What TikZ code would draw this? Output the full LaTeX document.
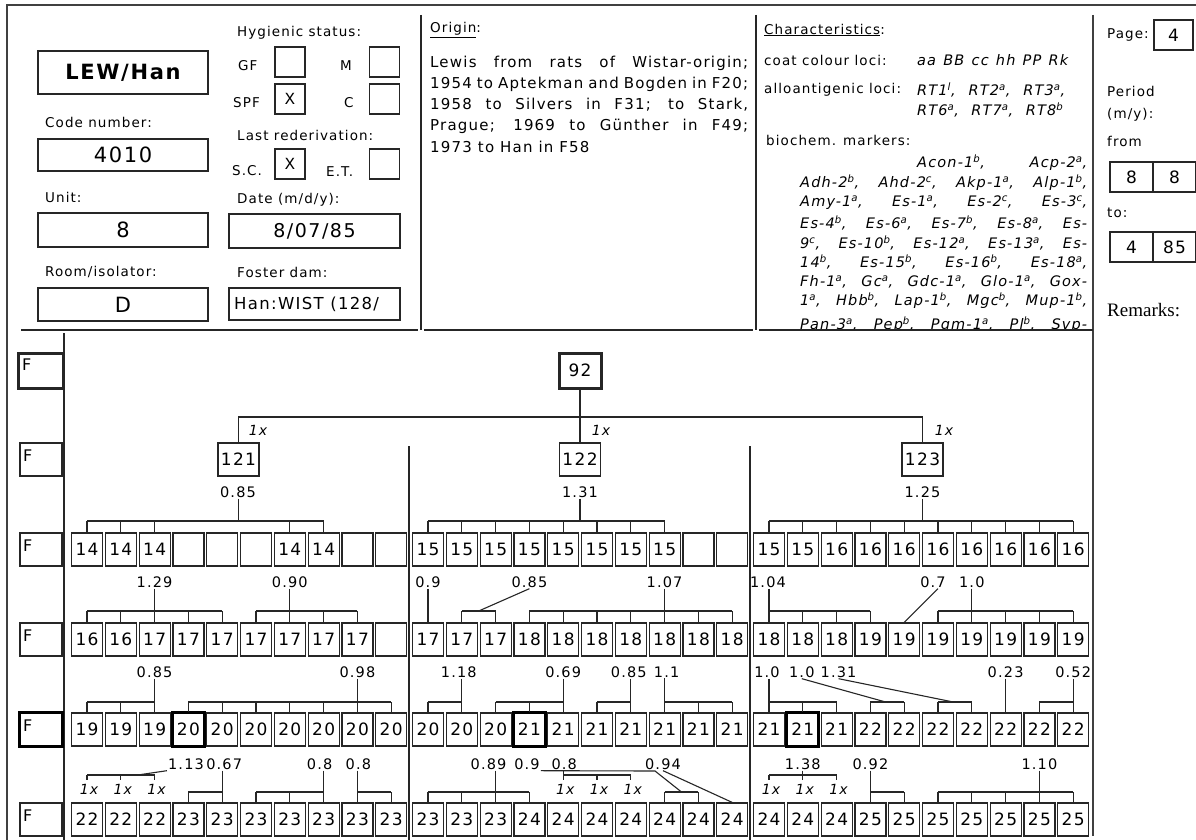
\documentclass[tikz,border=0pt]{standalone}
\usepackage{fontspec}
\setmainfont{DejaVu Sans}[LetterSpace=8]
\newfontfamily\serifR{Liberation Serif}
\newfontfamily\monoX{Liberation Mono}
\usetikzlibrary{calc}
\newcommand\fsz[1]{\fontsize{#1}{#1}\selectfont}
\tikzset{
  ln/.style={draw=black!85, line width=1.2pt},
  frame/.style={draw=black!75, line width=1.8pt},
  hbox/.style={draw=black!85, line width=1.2pt, inner sep=0pt},
  cell/.style={draw=black!85, line width=1.2pt, minimum width=31pt, minimum height=33pt, inner sep=0pt, font=\fsz{17}},
  thickbox/.style={draw=black, line width=3pt},
  lbl/.style={inner sep=0pt, anchor=west, font=\fsz{13.5}},
  otx/.style={inner sep=0pt, anchor=west, font=\fsz{15}},
  val/.style={inner sep=1pt, font=\fsz{14.5}},
  lxs/.style={inner sep=0pt, font=\fsz{14}\itshape},
  mk/.style={inner sep=0pt, anchor=west, font=\fsz{14.5}\itshape},
  conn/.style={draw=black!85, line width=1.1pt},
  xbox/.style={hbox, minimum size=30pt, font=\fsz{17}\monoX},
  pbox/.style={hbox, minimum width=43pt, minimum height=30pt, font=\fsz{17}},
}
\newcommand\cellrow[3]{%
  \foreach \i/\t in {#3}{%
    \node[cell] (r#1s#2b\i) at ({87+341*(#2-1)+33.8*\i},{369.5+90*#1}) {\t};
  }}
\newcommand\brk[6]{%
  \draw[conn] (#1.center |- #2.south) -- (#1.center |- 0,#3);
  \draw[conn] (#4.north |- 0,#3) -- (#5.north |- 0,#3);
  \foreach \c in {#6}{\draw[conn] (\c.north |- 0,#3) -- (\c.north);}
}
\newcommand\sibbar[4]{% y, first, last, list (bar with ticks)
  \draw[conn] (#2.north |- 0,#1) -- (#3.north |- 0,#1);
  \foreach \c in {#4}{\draw[conn] (\c.north |- 0,#1) -- (\c.north);}
}
\newcommand\lxbar[3]{% first, last, list
  \draw[conn] (#1.north |- 0,775) -- (#2.north |- 0,775);
  \foreach \c in {#3}{\draw[conn] (\c.north |- 0,775) -- (\c.north |- 0,780);
    \node[lxs, xshift=2pt] (lx-\c) at (\c.north |- 0,789) {1x};}
}
\begin{document}
\begin{tikzpicture}[x=1pt,y=-1pt]
\useasboundingbox (0,0) rectangle (1196,840);
\fill[white] (0,0) rectangle (1196,840);
% frame
\draw[frame] (7,840) -- (7,5) -- (1196,5);
\draw[ln] (421,15) -- (421,330);
\draw[ln] (756,15) -- (756,330);
\draw[frame] (1093,15) -- (1093,836);
\draw[ln] (21,330) -- (418,330);
\draw[ln] (424,330) -- (753,330);
\draw[ln] (759,330) -- (1093,330);
\draw[ln] (64,333) -- (64,840);
\draw[ln] (409,446) -- (409,840);
\draw[ln] (750,446) -- (750,840);
% left header
\node[hbox, minimum width=170pt, minimum height=43pt, font=\fsz{21}\bfseries] (strain) at (123,72.5) {LEW/Han};
\node[lbl] (codel) at (45,122) {Code number:};
\node[hbox, minimum width=170pt, minimum height=32pt, font=\fsz{21}] (code) at (123,155) {4010};
\node[lbl] (unitl) at (45,197) {Unit:};
\node[hbox, minimum width=170pt, minimum height=34pt, font=\fsz{21}] (unit) at (123,230) {8};
\node[lbl] (rooml) at (45,272) {Room/isolator:};
\node[hbox, minimum width=170pt, minimum height=33pt, font=\fsz{21}] (room) at (123,304.5) {D};
\node[lbl] (hygl) at (237,33) {Hygienic status:};
\node[lbl] (gfl) at (238,66) {GF};
\node[hbox, minimum size=30pt] (gf) at (290,62) {};
\node[lbl] (ml) at (340,66) {M};
\node[hbox, minimum size=30pt] (mb) at (384.5,62) {};
\node[lbl] (spfl) at (233,103) {SPF};
\node[xbox] (spf) at (290,99) {X};
\node[lbl] (cl) at (344,103) {C};
\node[hbox, minimum size=30pt] (cb) at (384.5,99) {};
\node[lbl] (lrl) at (237,135) {Last rederivation:};
\node[lbl] (scl) at (232,171) {S.C.};
\node[xbox] (sc) at (290,164) {X};
\node[lbl] (etl) at (326,172) {E.T.};
\node[hbox, minimum size=30pt] (et) at (384.5,164) {};
\node[lbl] (datel) at (237,200) {Date (m/d/y):};
\node[hbox, minimum width=171pt, minimum height=34pt, font=\fsz{19}] (date) at (314.5,231) {8/07/85};
\node[lbl] (fosterl) at (237,272) {Foster dam:};
\node[hbox, minimum width=171pt, minimum height=32pt] (foster) at (314.5,304) {};
\node[inner sep=0pt, anchor=west, font=\fsz{16.5}] (fostert) at (234,304) {Han:WIST (128/};
% origin
\node[lbl] (origl) at (430,30) {\underline{Origin}:};
\node[otx] (o1) at (430,63) {\makebox[318pt][s]{Lewis from rats of Wistar-origin;}};
\node[otx] (o2) at (430,84) {\makebox[318pt][s]{1954 to Aptekman and Bogden in F20;}};
\node[otx] (o3) at (430,105) {\makebox[318pt][s]{1958 to Silvers in F31; to Stark,}};
\node[otx] (o4) at (430,126) {\makebox[318pt][s]{Prague; 1969 to Günther in F49;}};
\node[otx] (o5) at (430,147) {1973 to Han in F58};
% characteristics
\node[lbl] (charl) at (764,30) {\underline{Characteristics}:};
\node[lbl] (coatl) at (764,60) {coat colour loci:};
\node[mk] (coat) at (917,60) {\makebox[151pt][s]{aa BB cc hh PP Rk}};
\node[lbl] (alll) at (764,90) {alloantigenic loci:};
\node[mk] (all1) at (917,90) {\makebox[148pt][s]{RT1\textsuperscript{l}, RT2\textsuperscript{a}, RT3\textsuperscript{a},}};
\node[mk] (all2) at (917,110) {\makebox[146pt][s]{RT6\textsuperscript{a}, RT7\textsuperscript{a}, RT8\textsuperscript{b}}};
\node[lbl] (bcl) at (766,140) {biochem. markers:};
\begin{scope}
\clip (760,150) rectangle (1092,328);
\node[mk] (bm1) at (917,163) {\makebox[170pt][s]{Acon-1\textsuperscript{b}, Acp-2\textsuperscript{a},}};
\node[mk] (bm2) at (800,183) {\makebox[287pt][s]{Adh-2\textsuperscript{b}, Ahd-2\textsuperscript{c}, Akp-1\textsuperscript{a}, Alp-1\textsuperscript{b},}};
\node[mk] (bm3) at (800,203) {\makebox[287pt][s]{Amy-1\textsuperscript{a}, Es-1\textsuperscript{a}, Es-2\textsuperscript{c}, Es-3\textsuperscript{c},}};
\node[mk] (bm4) at (800,223) {\makebox[287pt][s]{Es-4\textsuperscript{b}, Es-6\textsuperscript{a}, Es-7\textsuperscript{b}, Es-8\textsuperscript{a}, Es-}};
\node[mk] (bm5) at (800,243) {\makebox[287pt][s]{9\textsuperscript{c}, Es-10\textsuperscript{b}, Es-12\textsuperscript{a}, Es-13\textsuperscript{a}, Es-}};
\node[mk] (bm6) at (800,262) {\makebox[287pt][s]{14\textsuperscript{b}, Es-15\textsuperscript{b}, Es-16\textsuperscript{b}, Es-18\textsuperscript{a},}};
\node[mk] (bm7) at (800,282) {\makebox[287pt][s]{Fh-1\textsuperscript{a}, Gc\textsuperscript{a}, Gdc-1\textsuperscript{a}, Glo-1\textsuperscript{a}, Gox-}};
\node[mk] (bm8) at (800,301) {\makebox[287pt][s]{1\textsuperscript{a}, Hbb\textsuperscript{b}, Lap-1\textsuperscript{b}, Mgc\textsuperscript{b}, Mup-1\textsuperscript{b},}};
\node[mk] (bm9) at (800,325) {\makebox[287pt][s]{Pan-3\textsuperscript{a}, Pep\textsuperscript{b}, Pgm-1\textsuperscript{a}, Pl\textsuperscript{b}, Svp-}};
\end{scope}
% page column
\node[lbl] (pagel) at (1107,35) {Page:};
\node[hbox, minimum width=39pt, minimum height=30pt, font=\fsz{17}] (page) at (1173.5,35) {4};
\node[lbl] (perl) at (1107,91) {Period};
\node[lbl] (mvl) at (1107,115) {(m/y):};
\node[lbl] (froml) at (1107,141) {from};
\node[pbox] (fm) at (1131.5,177) {8};
\node[pbox] (fy) at (1174.5,177) {8};
\node[lbl] (tol) at (1107,213) {to:};
\node[pbox] (tm) at (1131.5,247) {4};
\node[pbox] (ty) at (1174.5,247) {85};
\node[lbl, font=\fsz{19}\serifR] (reml) at (1107,310) {Remarks:};
% generation boxes on the left
\node[cell, minimum width=45pt, minimum height=35pt, line width=3pt] (F0) at (40.5,370.5) {};
\node[inner sep=0pt, anchor=north west, font=\fsz{16}] (Ft0) at (22,359) {F};
\foreach \r in {1,...,5}{
  \node[cell, minimum width=42pt] (F\r) at (41,{369.5+90*\r}) {};
  \node[inner sep=0pt, anchor=north west, font=\fsz{16}] (Ft\r) at (23,{353+90*\r+7}) {F};
}
\draw[thickbox] (F4.south west) rectangle (F4.north east);
% top of pedigree
\node[cell, minimum width=42pt, minimum height=35pt, line width=3pt] (n92) at (580,370.5) {92};
\node[cell, minimum width=41pt] (n121) at (238.5,459.5) {121};
\node[cell, minimum width=41pt] (n122) at (580,459.5) {122};
\node[cell, minimum width=41pt] (n123) at (922.5,459.5) {123};
\coordinate (hb) at (0,417);
\draw[conn] (n92.south) -- (n122.north);
\draw[conn] (n121.north) -- (n121.north |- hb) -| (n123.north);
\node[lxs] (lx121) at (258,430) {1x};
\node[lxs] (lx122) at (601,430) {1x};
\node[lxs] (lx123) at (944,430) {1x};
% cells
\cellrow{2}{1}{0/14,1/14,2/14,3/{},4/{},5/{},6/14,7/14,8/{},9/{}}
\cellrow{2}{2}{0/15,1/15,2/15,3/15,4/15,5/15,6/15,7/15,8/{},9/{}}
\cellrow{2}{3}{0/15,1/15,2/16,3/16,4/16,5/16,6/16,7/16,8/16,9/16}
\cellrow{3}{1}{0/16,1/16,2/17,3/17,4/17,5/17,6/17,7/17,8/17,9/{}}
\cellrow{3}{2}{0/17,1/17,2/17,3/18,4/18,5/18,6/18,7/18,8/18,9/18}
\cellrow{3}{3}{0/18,1/18,2/18,3/19,4/19,5/19,6/19,7/19,8/19,9/19}
\cellrow{4}{1}{0/19,1/19,2/19,3/20,4/20,5/20,6/20,7/20,8/20,9/20}
\cellrow{4}{2}{0/20,1/20,2/20,3/21,4/21,5/21,6/21,7/21,8/21,9/21}
\cellrow{4}{3}{0/21,1/21,2/21,3/22,4/22,5/22,6/22,7/22,8/22,9/22}
\cellrow{5}{1}{0/22,1/22,2/22,3/23,4/23,5/23,6/23,7/23,8/23,9/23}
\cellrow{5}{2}{0/23,1/23,2/23,3/24,4/24,5/24,6/24,7/24,8/24,9/24}
\cellrow{5}{3}{0/24,1/24,2/24,3/25,4/25,5/25,6/25,7/25,8/25,9/25}
\draw[thickbox] (r4s1b3.south west) rectangle (r4s1b3.north east);
\draw[thickbox] (r4s2b3.south west) rectangle (r4s2b3.north east);
\draw[thickbox] (r4s3b1.south west) rectangle (r4s3b1.north east);
% generation 1 -> 2
\node[val] (v121) at (238,492) {0.85};
\node[val] (v122) at (580,492) {1.31};
\node[val] (v123) at (922.5,492) {1.25};
\brk{n121}{v121}{521}{r2s1b0}{r2s1b7}{r2s1b0,r2s1b1,r2s1b2,r2s1b6,r2s1b7}
\brk{n122}{v122}{521}{r2s2b0}{r2s2b7}{r2s2b0,r2s2b1,r2s2b2,r2s2b3,r2s2b4,r2s2b5,r2s2b6,r2s2b7}
\brk{n123}{v123}{521}{r2s3b0}{r2s3b9}{r2s3b0,r2s3b1,r2s3b2,r2s3b3,r2s3b4,r2s3b5,r2s3b6,r2s3b7,r2s3b8,r2s3b9}
% generation 2 -> 3
\node[val] (a1) at (r2s1b2 |- 0,582) {1.29};
\brk{r2s1b2}{a1}{611}{r3s1b0}{r3s1b4}{r3s1b0,r3s1b1,r3s1b2,r3s1b3,r3s1b4}
\node[val] (a2) at (r2s1b6 |- 0,582) {0.90};
\brk{r2s1b6}{a2}{611}{r3s1b5}{r3s1b8}{r3s1b5,r3s1b6,r3s1b7,r3s1b8}
\node[val] (a3) at (r2s2b0 |- 0,582) {0.9};
\draw[conn] (r2s2b0.center |- a3.south) -- (r3s2b0.north);
\node[val] (a4) at (r2s2b3 |- 0,582) {0.85};
\sibbar{611}{r3s2b1}{r3s2b2}{r3s2b1,r3s2b2}
\draw[conn] (r2s2b3.center |- a4.south) -- ($(r3s2b1.north |- 0,611)!0.5!(r3s2b2.north |- 0,611)$);
\node[val] (a5) at (r2s2b7 |- 0,582) {1.07};
\brk{r2s2b7}{a5}{611}{r3s2b3}{r3s2b9}{r3s2b3,r3s2b4,r3s2b5,r3s2b6,r3s2b7,r3s2b8,r3s2b9}
\node[val] (a6) at ($(r2s3b0 |- 0,582)+(-1,0)$) {1.04};
\brk{r2s3b0}{a6}{611}{r3s3b0}{r3s3b3}{r3s3b0,r3s3b1,r3s3b2,r3s3b3}
\node[val] (a7) at ($(r2s3b5 |- 0,582)+(-5,0)$) {0.7};
\draw[conn] (r2s3b5.center |- a7.south) -- (r3s3b4.north);
\node[val] (a8) at (r2s3b6 |- 0,582) {1.0};
\brk{r2s3b6}{a8}{611}{r3s3b5}{r3s3b9}{r3s3b5,r3s3b6,r3s3b7,r3s3b8,r3s3b9}
% generation 3 -> 4
\node[val] (c1) at (r3s1b2 |- 0,672) {0.85};
\brk{r3s1b2}{c1}{702}{r4s1b0}{r4s1b2}{r4s1b0,r4s1b1,r4s1b2}
\node[val] (c2) at (r3s1b8 |- 0,672) {0.98};
\brk{r3s1b8}{c2}{702}{r4s1b3}{r4s1b9}{r4s1b3,r4s1b4,r4s1b5,r4s1b6,r4s1b7,r4s1b8,r4s1b9}
\node[val] (c3) at ($(r3s2b1 |- 0,672)+(-3,0)$) {1.18};
\brk{r3s2b1}{c3}{702}{r4s2b0}{r4s2b1}{r4s2b0,r4s2b1}
\node[val] (c4) at (r3s2b4 |- 0,672) {0.69};
\brk{r3s2b4}{c4}{702}{r4s2b2}{r4s2b4}{r4s2b2,r4s2b3,r4s2b4}
\node[val] (c5) at ($(r3s2b6 |- 0,672)+(-2,0)$) {0.85};
\brk{r3s2b6}{c5}{702}{r4s2b5}{r4s2b6}{r4s2b5,r4s2b6}
\node[val] (c6) at ($(r3s2b7 |- 0,672)+(2,0)$) {1.1};
\brk{r3s2b7}{c6}{702}{r4s2b7}{r4s2b9}{r4s2b7,r4s2b8,r4s2b9}
\node[val] (c7) at ($(r3s3b0 |- 0,672)+(-2,0)$) {1.0};
\brk{r3s3b0}{c7}{702}{r4s3b0}{r4s3b2}{r4s3b0,r4s3b1,r4s3b2}
\node[val] (c8) at ($(r3s3b1 |- 0,672)+(-1,0)$) {1.0};
\sibbar{702}{r4s3b3}{r4s3b4}{r4s3b3,r4s3b4}
\draw[conn] (c8.south) -- ($(r4s3b3.north |- 0,702)!0.45!(r4s3b4.north |- 0,702)$);
\node[val] (c9) at ($(r3s3b2 |- 0,672)+(2,0)$) {1.31};
\sibbar{702}{r4s3b5}{r4s3b6}{r4s3b5,r4s3b6}
\draw[conn] (c9.south) -- ($(r4s3b5.north |- 0,702)!0.45!(r4s3b6.north |- 0,702)$);
\node[val] (c10) at (r3s3b7 |- 0,672) {0.23};
\draw[conn] (r3s3b7.center |- c10.south) -- (r4s3b7.north);
\node[val] (c11) at (r3s3b9 |- 0,672) {0.52};
\brk{r3s3b9}{c11}{702}{r4s3b8}{r4s3b9}{r4s3b8,r4s3b9}
% generation 4 -> 5
\node[val] (d1) at (186,764) {1.13};
\lxbar{r5s1b0}{r5s1b2}{r5s1b0,r5s1b1,r5s1b2}
\draw[conn] (d1.south west) -- ($(r5s1b1.north |- 0,775)!0.5!(r5s1b2.north |- 0,775)$);
\node[val] (d2) at ($(r4s1b4 |- 0,764)+(2,0)$) {0.67};
\brk{r4s1b4}{d2}{792}{r5s1b3}{r5s1b4}{r5s1b3,r5s1b4}
\node[val] (d3) at ($(r4s1b7 |- 0,764)+(-4,0)$) {0.8};
\brk{r4s1b7}{d3}{792}{r5s1b5}{r5s1b7}{r5s1b5,r5s1b6,r5s1b7}
\node[val] (d4) at ($(r4s1b8 |- 0,764)+(1,0)$) {0.8};
\brk{r4s1b8}{d4}{792}{r5s1b8}{r5s1b9}{r5s1b8,r5s1b9}
\node[val] (d5) at ($(r4s2b2 |- 0,764)+(-7,0)$) {0.89};
\brk{r4s2b2}{d5}{792}{r5s2b0}{r5s2b3}{r5s2b0,r5s2b1,r5s2b2,r5s2b3}
\node[val] (d6) at (527,764) {0.9};
\coordinate (k1) at (655,771);
\sibbar{792}{r5s2b7}{r5s2b8}{r5s2b7,r5s2b8}
\draw[conn] (d6.south east) -- (k1) -- ($(r5s2b7.north |- 0,792)!0.5!(r5s2b8.north |- 0,792)$);
\node[val] (d7) at ($(r4s2b4 |- 0,764)+(1,0)$) {0.8};
\draw[conn] (r4s2b4.center |- d7.south) -- (r4s2b4.center |- 0,775);
\lxbar{r5s2b4}{r5s2b6}{r5s2b4,r5s2b5,r5s2b6}
\node[val] (d8) at (663,764) {0.94};
\draw[conn] (d8.south) -- (r5s2b9.north);
\node[val] (d9) at (r4s3b1 |- 0,764) {1.38};
\draw[conn] (r4s3b1.center |- d9.south) -- (r4s3b1.center |- 0,775);
\lxbar{r5s3b0}{r5s3b2}{r5s3b0,r5s3b1,r5s3b2}
\node[val] (d10) at (r4s3b3 |- 0,764) {0.92};
\brk{r4s3b3}{d10}{792}{r5s3b3}{r5s3b4}{r5s3b3,r5s3b4}
\node[val] (d11) at (r4s3b8 |- 0,764) {1.10};
\brk{r4s3b8}{d11}{792}{r5s3b5}{r5s3b9}{r5s3b5,r5s3b6,r5s3b7,r5s3b8,r5s3b9}
\end{tikzpicture}
\end{document}
